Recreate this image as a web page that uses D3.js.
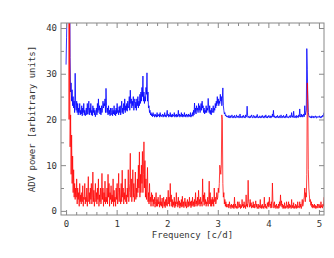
<!DOCTYPE html>
<html>
<head>
<meta charset="utf-8">
<script src="https://cdn.jsdelivr.net/npm/d3@7"></script>
<style>
	body { margin: 0; background: #fff; }
	text { font-family: "DejaVu Sans Mono", monospace; font-size: 9px; fill: #333; }
</style>
</head>
<body>
<div id="chart"></div>
<script>
// frequency step of the periodogram [c/d]
const step = 0.01;
const blueOffset = 20;

// red series: ADV power, one value per step from 0
const redPower = [
	55, 62, 48, 70, 44, 52, 20, 45, 14, 21,
	8, 16.6, 6, 12, 4, 9, 3, 6, 2.5, 5,
	3, 7, 1.5, 5, 2.5, 4, 1, 6, 2, 3.5,
	1.5, 4, 2, 5.5, 1, 3, 2.5, 6, 1.5, 3,
	2, 5, 1, 3.5, 7.5, 2, 4, 1.5, 5, 2.5,
	6, 1.5, 3, 8.5, 2, 4.5, 1, 3, 6, 2,
	4, 1.5, 5, 2.5, 7, 1, 3.5, 2, 5, 1.5,
	3, 8.2, 2.5, 5, 1, 4, 2, 6.5, 1.5, 3,
	2, 5, 1.5, 8, 3, 6, 1, 4, 2.5, 5.5,
	1.5, 3.5, 2, 7, 1, 4.5, 2, 3, 1, 5,
	2.5, 6, 1.5, 4, 8.2, 2, 5, 3, 1.5, 6,
	2, 8.9, 3, 5, 1.5, 4, 2.5, 7, 2, 3.5,
	1.5, 5, 3, 9, 2, 4, 6, 12.6, 3, 7,
	2, 5, 9, 3, 6, 2, 4, 8.5, 2.5, 5,
	3, 7, 4, 10, 5, 12.9, 3, 8, 4, 10,
	6, 13, 4, 8, 15.1, 5, 11, 3, 7, 2.5,
	5, 9.5, 2, 4, 1.5, 6, 2, 3, 1, 4,
	2, 3.5, 1, 2.5, 1.5, 3, 0.8, 2, 4, 1,
	2.5, 1, 3, 1.5, 2, 0.8, 3.5, 1.2, 2, 1,
	2.8, 0.6, 1.5, 3, 1, 2, 0.7, 2.5, 1.2, 3,
	1, 2, 4.5, 1.5, 3, 1, 6, 2, 3.5, 1,
	2.5, 0.8, 2, 1.2, 3, 0.7, 2, 1, 4, 1.5,
	2, 0.8, 3, 1.2, 2.2, 0.6, 1.8, 1, 2.5, 0.8,
	3.2, 1, 2, 0.7, 1.5, 2.8, 1, 2, 0.6, 1.5,
	2.5, 0.8, 2, 1, 3, 1.2, 2, 0.7, 2.2, 1,
	3, 1.2, 2, 0.9, 2.5, 1, 4, 1.5, 2.2, 1,
	3, 1.2, 4.5, 1.5, 2.5, 1, 3, 1.5, 2, 1,
	7, 2, 3.5, 1.2, 4, 1.5, 2.5, 1, 2, 1.5,
	3, 1, 2.5, 6.5, 1.5, 4, 1, 2.5, 1, 3,
	1.5, 2.5, 1, 5, 2, 3, 1.5, 2, 4, 2.5,
	3, 5, 4, 6, 10, 9, 8, 10, 21, 20,
	6, 3, 4, 1.5, 2.5, 1, 2, 0.8, 1.5, 1,
	0.8, 1.5, 0.6, 2, 1, 1.2, 0.5, 1.5, 0.8, 1.2,
	0.6, 1.5, 0.5, 3, 0.8, 1.5, 0.6, 1, 0.5, 2,
	0.6, 1.2, 2, 0.8, 1.5, 0.5, 1.2, 0.7, 2.5, 1,
	1.5, 0.6, 2, 0.8, 1.2, 0.5, 3.5, 1, 1.5, 0.8,
	6.7, 2, 1.5, 0.8, 2.5, 1, 1.8, 0.6, 1.2, 0.8,
	2, 0.7, 1.5, 0.6, 1.2, 2.2, 0.8, 1.5, 0.5, 1,
	1.5, 0.5, 1.2, 0.8, 2.5, 0.6, 1.2, 0.5, 1.5, 0.7,
	1, 0.5, 3, 0.8, 1.5, 0.6, 1, 0.5, 1.8, 1,
	2, 0.8, 3, 1.2, 1.5, 0.6, 2, 0.7, 6.1, 2,
	1.5, 0.6, 2, 0.8, 1.2, 0.5, 1.5, 0.7, 1, 0.5,
	1.5, 0.6, 2, 1, 3.5, 1.2, 2.2, 0.8, 1.5, 0.5,
	1.2, 0.6, 1.8, 0.5, 1, 0.6, 2, 0.8, 1.2, 0.5,
	2, 0.6, 1.5, 0.8, 1.2, 0.5, 2.5, 0.7, 1.2, 0.6,
	1.8, 0.5, 1, 0.7, 1.5, 0.5, 1.2, 0.6, 2, 0.8,
	1, 0.6, 2, 0.8, 1.5, 0.5, 1.2, 2.5, 1, 1.5,
	2.5, 3, 5, 2, 4, 3, 8, 28, 24, 9,
	5, 3.5, 2, 2.5, 1.2, 2, 0.8, 1.5, 0.6, 1.2,
	0.8, 1.5, 0.6, 1.2, 0.5, 1, 0.7, 1.5, 0.6, 1,
	1.5, 0.7, 1.2, 0.6, 2, 0.8, 1.2, 0.6, 1.5, 1,
	3
];

// blue series: ADV power before the +20 offset
const bluePower = [
	12, 18, 24, 30, 26, 35, 45, 38, 13.6, 6,
	8, 4, 6.5, 3, 5, 2.5, 4, 1.5, 10.1, 3,
	2, 4, 1.5, 3.5, 1, 2.5, 1.5, 3.5, 1, 2,
	1.2, 3, 0.8, 2.5, 1.5, 3.5, 1, 2, 0.8, 1.5,
	2.5, 1, 3.5, 1.2, 2, 4, 1, 2.5, 1.5, 3.5,
	1, 2, 0.8, 3, 1.5, 2.5, 1, 2, 0.6, 1.5,
	2.5, 1, 3.5, 1.5, 4.5, 2, 3, 1.2, 2.5, 1,
	3, 1.5, 2, 4, 2.5, 3.5, 3, 4.5, 1.5, 6.8,
	3, 1.5, 2.5, 1, 3, 1.2, 2, 0.8, 2.5, 1,
	1.5, 2.5, 0.8, 2, 1.2, 3, 1, 2, 0.8, 2.5,
	1.2, 3.5, 1.5, 2, 1, 2.8, 1.5, 3, 1, 2,
	4, 1.5, 2.5, 1.2, 3.5, 2, 4.5, 1.5, 3, 2,
	3.5, 1.8, 4, 2.5, 3, 5, 2, 6.4, 3.5, 4.5,
	2.5, 4, 3, 5, 2, 3.5, 4.5, 2.5, 3.8, 2,
	4.5, 3, 5, 2.5, 4, 3, 5.5, 3.5, 6, 4,
	7, 5, 9.5, 4, 6, 3.5, 5, 4, 7, 5.5,
	10.2, 4, 6, 2.5, 3, 1.5, 2, 1, 1.5, 0.8,
	1.2, 0.6, 1.5, 0.8, 1, 0.5, 1.2, 0.7, 1, 0.5,
	1.5, 0.6, 1, 0.8, 1.2, 0.5, 1.5, 0.7, 1, 0.6,
	0.8, 1.2, 0.5, 1, 0.7, 1.5, 0.6, 1, 0.5, 1.2,
	2, 0.8, 1.2, 0.5, 1, 0.7, 1.5, 0.6, 1, 0.5,
	1.2, 0.6, 1, 0.8, 1.5, 0.5, 1, 0.7, 1.2, 0.5,
	1, 0.6, 2, 0.8, 1.2, 0.5, 1, 0.7, 1.5, 0.6,
	1.2, 0.5, 1, 0.7, 1.5, 0.6, 1, 0.5, 1.2, 0.8,
	1, 0.5, 1.2, 0.7, 1, 0.6, 1.5, 0.5, 1, 0.8,
	1.5, 0.7, 2, 1, 3.6, 1.5, 2.5, 1.2, 3, 2,
	2.5, 1.5, 3.5, 2, 3, 1.5, 2.5, 3.5, 2, 4,
	2.5, 3, 1.5, 2.5, 1.2, 2, 1.5, 3, 1.5, 2.5,
	2, 4.6, 2.5, 1.5, 3, 1.2, 2, 1, 2.5, 1.5,
	2, 3, 1.5, 2.5, 2, 3.5, 2.5, 4, 3, 5,
	3.5, 4.5, 3, 4, 3.5, 5.5, 4, 5, 3, 4.5,
	6.9, 3, 2, 1.2, 1.5, 0.8, 1, 0.6, 0.8, 0.5,
	0.7, 0.4, 0.9, 0.5, 0.3, 0.8, 0.4, 0.6, 1, 0.5,
	0.3, 0.7, 0.4, 0.9, 0.5, 0.3, 0.6, 1, 0.4, 0.7,
	0.5, 0.8, 0.3, 0.6, 1.2, 0.4, 0.7, 0.5, 0.3, 0.8,
	0.5, 0.9, 0.4, 0.6, 0.3, 1, 0.5, 0.7, 2.9, 0.8,
	0.4, 0.7, 0.5, 0.3, 0.8, 0.4, 0.6, 1, 0.5, 0.3,
	0.6, 0.9, 0.4, 0.7, 0.3, 0.5, 0.8, 0.4, 1.1, 0.5,
	0.3, 0.6, 0.4, 0.8, 0.5, 0.3, 0.7, 0.4, 0.9, 0.5,
	0.6, 0.3, 0.8, 0.4, 0.5, 1, 0.4, 0.6, 0.3, 0.7,
	0.5, 0.9, 0.4, 0.6, 0.8, 0.3, 0.7, 0.5, 1.2, 0.6,
	2, 0.5, 0.8, 0.4, 0.6, 0.3, 0.7, 0.5, 0.9, 0.4,
	0.6, 0.3, 0.8, 0.5, 0.4, 1, 0.6, 0.3, 0.7, 0.5,
	0.9, 0.4, 0.6, 0.3, 0.8, 0.5, 1.2, 0.4, 0.6, 0.5,
	0.3, 0.7, 0.5, 0.9, 0.4, 0.6, 1.5, 0.5, 0.8, 0.4,
	1.8, 0.6, 0.4, 0.8, 0.5, 0.3, 0.9, 0.5, 0.7, 0.4,
	1, 0.6, 2.3, 0.8, 0.5, 1.2, 0.6, 1, 0.5, 0.8,
	1.2, 0.6, 3, 1, 1.5, 2, 15.5, 11, 4.5, 1.5,
	0.8, 0.5, 0.7, 0.4, 0.6, 0.3, 0.8, 0.5, 0.4, 0.7,
	0.3, 0.6, 0.5, 0.8, 0.4, 0.3, 0.7, 0.5, 0.4, 0.6,
	0.5, 0.8, 0.4, 0.6, 0.3, 0.7, 0.5, 0.9, 0.6, 1,
	1.5
];

const xMajor = [0, 1, 2, 3, 4, 5];
const yMajor = [0, 10, 20, 30, 40];

const margin = {top: 23, right: 10, bottom: 43, left: 61},
	width = 334 - margin.left - margin.right,
	height = 258 - margin.top - margin.bottom;

const x = d3.scaleLinear().domain([-0.1, 5.1]).range([0, width]);
const y = d3.scaleLinear().domain([-0.9, 41.1]).range([height, 0]);

const svg = d3.select('#chart')
	.append('svg')
	.attr('width', 334)
	.attr('height', 258)
	.append('g')
		.attr('transform', `translate(${margin.left},${margin.top})`);

svg.append('clipPath')
	.attr('id', 'plot')
	.append('rect')
		.attr('width', width)
		.attr('height', height);

const line = d3.line()
	.x((d, i) => x(i * step))
	.y(d => y(d));

// blue (offset by 20) first, red drawn over it
svg.append('path')
	.datum(bluePower.map(v => v + blueOffset))
	.attr('clip-path', 'url(#plot)')
	.attr('d', line)
	.attr('fill', 'none')
	.attr('stroke', '#0000ff')
	.attr('stroke-width', 1)
	.attr('stroke-opacity', 0.8);

svg.append('path')
	.datum(redPower)
	.attr('clip-path', 'url(#plot)')
	.attr('d', line)
	.attr('fill', 'none')
	.attr('stroke', '#ff0000')
	.attr('stroke-width', 1)
	.attr('stroke-opacity', 0.75);

// minor tick values
const xMinor = d3.range(0, 26).map(i => i * 0.2).filter(v => Math.abs(v - Math.round(v)) > 0.01);
const yMinor = [5, 15, 25, 35];

const drawAxis = (axis, tr) => {
	const g = svg.append('g').attr('transform', tr).call(axis);
	g.select('.domain').remove();
	g.selectAll('line').attr('stroke', '#888');
	return g;
};

// inward ticks on all four sides
drawAxis(d3.axisBottom(x).tickValues(xMajor).tickSize(-5).tickPadding(6).tickFormat(d3.format('d')), `translate(0,${height})`);
drawAxis(d3.axisBottom(x).tickValues(xMinor).tickSize(-3).tickFormat(''), `translate(0,${height})`);
drawAxis(d3.axisTop(x).tickValues(xMajor).tickSize(-5).tickFormat(''), 'translate(0,0)');
drawAxis(d3.axisTop(x).tickValues(xMinor).tickSize(-3).tickFormat(''), 'translate(0,0)');
drawAxis(d3.axisLeft(y).tickValues(yMajor).tickSize(-5).tickPadding(4).tickFormat(d3.format('d')), 'translate(0,0)');
drawAxis(d3.axisLeft(y).tickValues(yMinor).tickSize(-3).tickFormat(''), 'translate(0,0)');
drawAxis(d3.axisRight(y).tickValues(yMajor).tickSize(-5).tickFormat(''), `translate(${width},0)`);
drawAxis(d3.axisRight(y).tickValues(yMinor).tickSize(-3).tickFormat(''), `translate(${width},0)`);

svg.selectAll('.tick text')
	.attr('font-family', null)
	.attr('font-size', null)
	.attr('fill', null);

svg.append('rect')
	.attr('width', width)
	.attr('height', height)
	.attr('fill', 'none')
	.attr('stroke', '#888');

svg.append('text')
	.attr('x', width / 2)
	.attr('y', height + 23)
	.style('text-anchor', 'middle')
	.text('Frequency [c/d]');

svg.append('text')
	.attr('transform', `translate(-26,${height / 2}) rotate(-90)`)
	.style('text-anchor', 'middle')
	.text('ADV power [arbitrary units]');
</script>
</body>
</html>
